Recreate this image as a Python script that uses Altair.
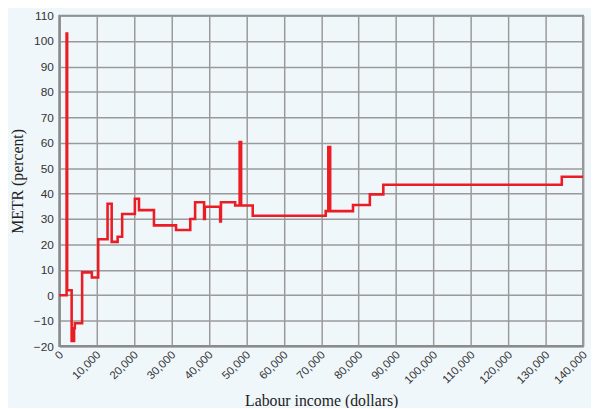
import altair as alt
import pandas as pd

# Step points: METR holds from this income until the next one
income = [0, 1950, 2100, 3300, 3950, 4150, 6100, 8700, 10400, 12900, 14000,
          15600, 16800, 20200, 21300, 25300, 31200, 35000, 36300, 38700, 38900,
          43000, 43200, 47000, 48200, 48600, 51700, 71200, 71900, 72400, 78500,
          83000, 86600, 134300, 140000]
metr = [0, 103, 2, -18, -13, -11, 9, 7, 22, 36, 21,
        23, 32, 38, 33.5, 27.5, 25.7, 30, 36.6, 30, 34.8,
        29, 36.6, 35.3, 60.3, 35.3, 31.3, 33.1, 58.3, 33.1, 35.5,
        39.7, 43.5, 46.6, 46.6]

x_ticks = list(range(0, 140001, 10000))
y_ticks = list(range(-20, 111, 10))

df = pd.DataFrame({"income": income, "metr": metr})

serif = "Liberation Serif"
sans = "Liberation Sans"

chart = alt.Chart(df).mark_line(
    interpolate="step-after", color="#ec1c24", strokeWidth=2.6
).encode(
    x=alt.X("income:Q",
            scale=alt.Scale(domain=[0, 140000], nice=False, zero=False),
            axis=alt.Axis(values=x_ticks, format=",.0f", labelAngle=-45,
                          labelAlign="right", labelBaseline="middle",
                          labelPadding=7, labelOffset=2, labelOverlap=False,
                          labelFlush=False, labelFontSize=11.5,
                          title="Labour income (dollars)", titlePadding=7)),
    y=alt.Y("metr:Q",
            scale=alt.Scale(domain=[-20, 110], nice=False, zero=False),
            axis=alt.Axis(values=y_ticks, labelPadding=6,
                          title="METR (percent)", titlePadding=8)),
).properties(
    width=531, height=335,
    autosize=alt.AutoSizeParams(type="none"),
    padding={"left": 52, "top": 5, "right": 8, "bottom": 60},
    background="#f0f7fb",
    title=alt.TitleParams("Ontario", font=serif, fontSize=17,
                          fontWeight="normal", color="#222", offset=-2),
).configure_view(
    stroke="#8a8a8a", strokeWidth=2
).configure_axis(
    grid=True, gridColor="#9a9a9a", gridWidth=1.5, gridOpacity=1,
    domainColor="#8a8a8a", domainWidth=2, ticks=False,
    labelFont=sans, labelFontSize=12, labelColor="#333",
    titleFont=serif, titleFontSize=16, titleFontWeight="normal",
    titleColor="#222"
)

chart.save("out.html", embed_options={"renderer": "svg", "actions": False})
